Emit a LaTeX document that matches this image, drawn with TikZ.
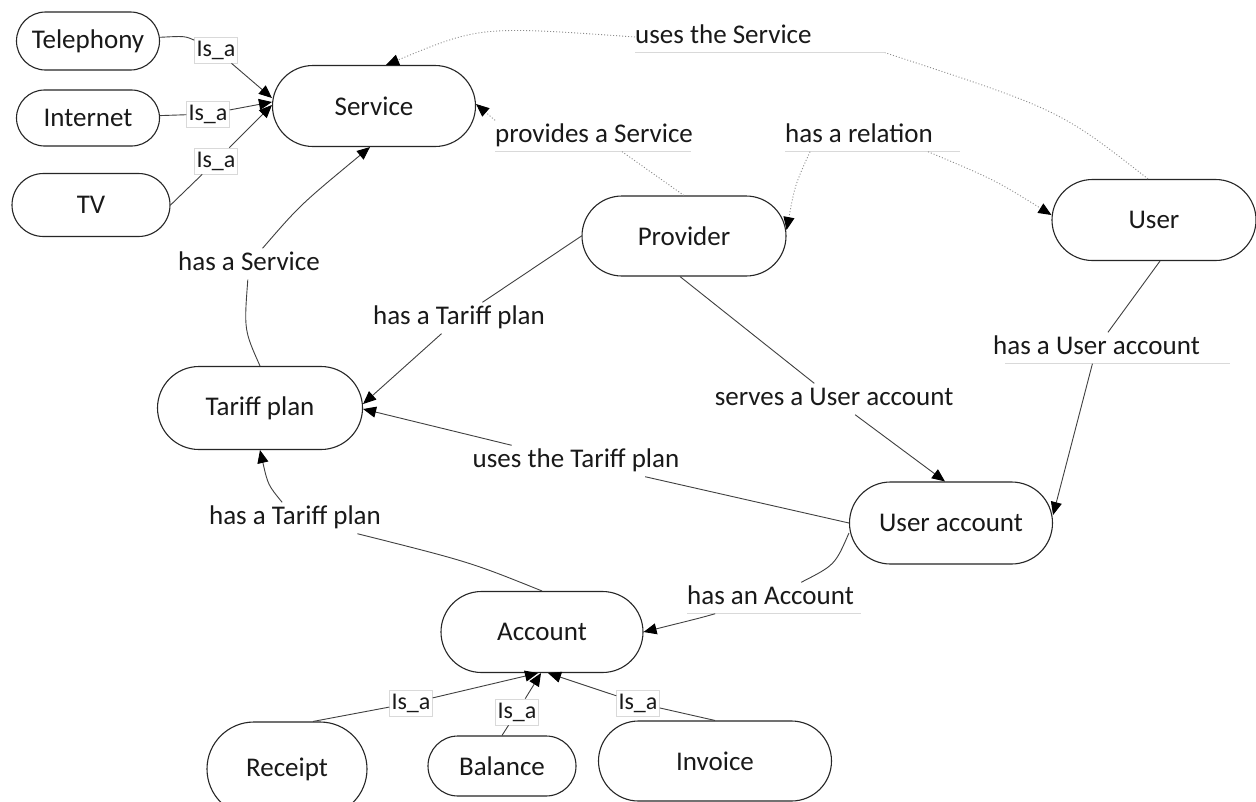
\documentclass[tikz,border=0pt]{standalone}
\usepackage{fontspec}
\setmainfont{Carlito}
\usetikzlibrary{shapes.misc,arrows.meta}
\begin{document}
\begin{tikzpicture}[x=1pt,y=-1pt,
  box/.style={rounded rectangle, draw=black!85, line width=1.1pt, inner sep=0pt, font=\fontsize{27}{32}\selectfont, text=black!90},
  lab/.style={font=\fontsize{27}{32}\selectfont, text height=19pt, text depth=6pt, inner xsep=1pt, inner ysep=3pt, text=black!90},
  ulab/.style={lab, anchor=west, inner xsep=0pt},
  isa/.style={font=\fontsize{24}{28}\selectfont, text height=17pt, text depth=5pt, inner sep=2pt, fill=white, draw=black!15, line width=0.6pt, text=black!90},
  edge/.style={draw=black!75, line width=0.9pt},
  arr/.style={edge, -{Triangle[length=13pt,width=11pt,color=black]}},
  dotl/.style={draw=black!45, line width=0.9pt, dash pattern=on 1pt off 2pt},
  dotarr/.style={dotl, -{Triangle[length=13pt,width=11pt,color=black]}},
  uline/.style={draw=black!15, line width=0.8pt}
]
\clip (0,0) rectangle (1256,801);
\fill[white] (0,0) rectangle (1256,801);

% nodes
\node[box, minimum width=143pt, minimum height=58pt] (tel) at (88,41) {Telephony};
\node[box, minimum width=143pt, minimum height=56pt] (int) at (88,118) {Internet};
\node[box, minimum width=158pt, minimum height=63pt] (tv) at (91,205) {TV};
\node[box, minimum width=203pt, minimum height=81pt] (svc) at (374,106) {Service};
\node[box, minimum width=204pt, minimum height=80pt] (prov) at (684,236) {Provider};
\node[box, minimum width=204pt, minimum height=81pt] (user) at (1154,220) {User};
\node[box, minimum width=205pt, minimum height=83pt] (tp) at (260,408) {Tariff plan};
\node[box, minimum width=203pt, minimum height=82pt] (ua) at (951,523) {User account};
\node[box, minimum width=202pt, minimum height=81pt] (acc) at (542,632) {Account};
\node[box, minimum width=160pt, minimum height=94pt] (rec) at (287,769) {Receipt};
\node[box, minimum width=148pt, minimum height=60pt] (bal) at (502,766) {Balance};
\node[box, minimum width=233pt, minimum height=80pt] (inv) at (715,761) {Invoice};

% labels
\node[isa] (isa1) at (216,50) {Is\_a};
\node[isa] (isa2) at (208,114) {Is\_a};
\node[isa] (isa3) at (216,161) {Is\_a};
\node[isa] (isa4) at (411,703) {Is\_a};
\node[isa] (isa5) at (517,712) {Is\_a};
\node[isa] (isa6) at (638,703) {Is\_a};

\node[ulab] (lUses) at (635,37) {uses the Service};
\node[ulab] (lProv) at (495,136) {provides a Service};
\node[ulab] (lRel) at (785,136) {has a relation};
\node[ulab] (lHUA) at (993,348) {has a User account};
\node[ulab] (lHAcc) at (687,598) {has an Account};
\coordinate (uUses) at ([xshift=250pt]lUses.south west);
\draw[uline] (lUses.south west) -- (uUses);
\draw[uline] (lProv.south west) -- ++(196,0);
\draw[uline] (lRel.south west) -- ++(175,0);
\draw[uline] ([xshift=12pt]lHUA.south west) -- ++(225,0);
\draw[uline] (lHAcc.south west) -- ++(174,0);

\node[lab] (lHS) at (249,264) {has a Service};
\node[lab] (lHTP1) at (459,318) {has a Tariff plan};
\node[lab] (lServes) at (834,399) {serves a User account};
\node[lab] (lUTP) at (576,461) {uses the Tariff plan};
\node[lab] (lHTP2) at (295,518) {has a Tariff plan};

% Is_a edges to Service
\draw[edge] (tel) .. controls (185,36) .. (isa1);
\draw[arr] (isa1) -- ([yshift=8pt]svc.west);
\draw[edge] (int) -- (isa2);
\draw[arr] (isa2) -- ([yshift=4pt]svc.west);
\draw[edge] (tv.east) -- (isa3);
\draw[arr] (isa3) -- ([yshift=1pt]svc.west);

% dotted edges
\draw[dotl] ([xshift=-6pt]user.north) .. controls (1060,110) .. (uUses);
\draw[dotarr] (lUses.west) .. controls (480,26) .. ([xshift=12pt]svc.north);
\draw[dotl] (prov.north) -- ([xshift=28pt]lProv.south);
\draw[dotarr] (lProv.north west) -- ([yshift=2pt]svc.east);
\draw[dotarr] ([xshift=25pt]lRel.south west) .. controls (795,185) .. ([yshift=6pt]prov.east);
\draw[dotarr] ([xshift=-5pt]lRel.south east) .. controls (995,180) .. ([yshift=5pt]user.west);

% solid edges
\draw[edge] (tp.north) .. controls (244,330) .. (lHS);
\draw[arr] (lHS) .. controls (300,205) .. ([xshift=-4pt]svc.south);
\draw[edge] (prov.west) -- (lHTP1);
\draw[arr] (lHTP1) -- ([yshift=4pt]tp.east);
\draw[edge] (ua.west) -- (lUTP);
\draw[arr] (lUTP) -- ([yshift=-1pt]tp.east);
\draw[edge] ([xshift=-4pt]prov.south) -- (lServes);
\draw[arr] (lServes) -- ([xshift=-6pt]ua.north);
\draw[edge] ([xshift=6pt]user.south) -- (lHUA);
\draw[arr] (lHUA) -- ([yshift=8pt]ua.east);
\draw[edge] (acc.north) .. controls (470,562) .. (lHTP2);
\draw[arr] (lHTP2) .. controls (268,485) .. (tp.south);
\draw[edge] ([yshift=-10pt]ua.west) .. controls (835,565) .. (lHAcc);
\draw[arr] (lHAcc) .. controls (700,618) .. (acc.east);

% Is_a edges to Account
\draw[edge] ([xshift=26pt]rec.north) -- (isa4);
\draw[arr] (isa4) -- ([xshift=-4pt]acc.south);
\draw[edge] (bal.north) -- (isa5);
\draw[arr] (isa5) -- ([xshift=-1pt]acc.south);
\draw[edge] (inv.north) -- (isa6);
\draw[arr] (isa6) -- ([xshift=6pt]acc.south);
\end{tikzpicture}
\end{document}
